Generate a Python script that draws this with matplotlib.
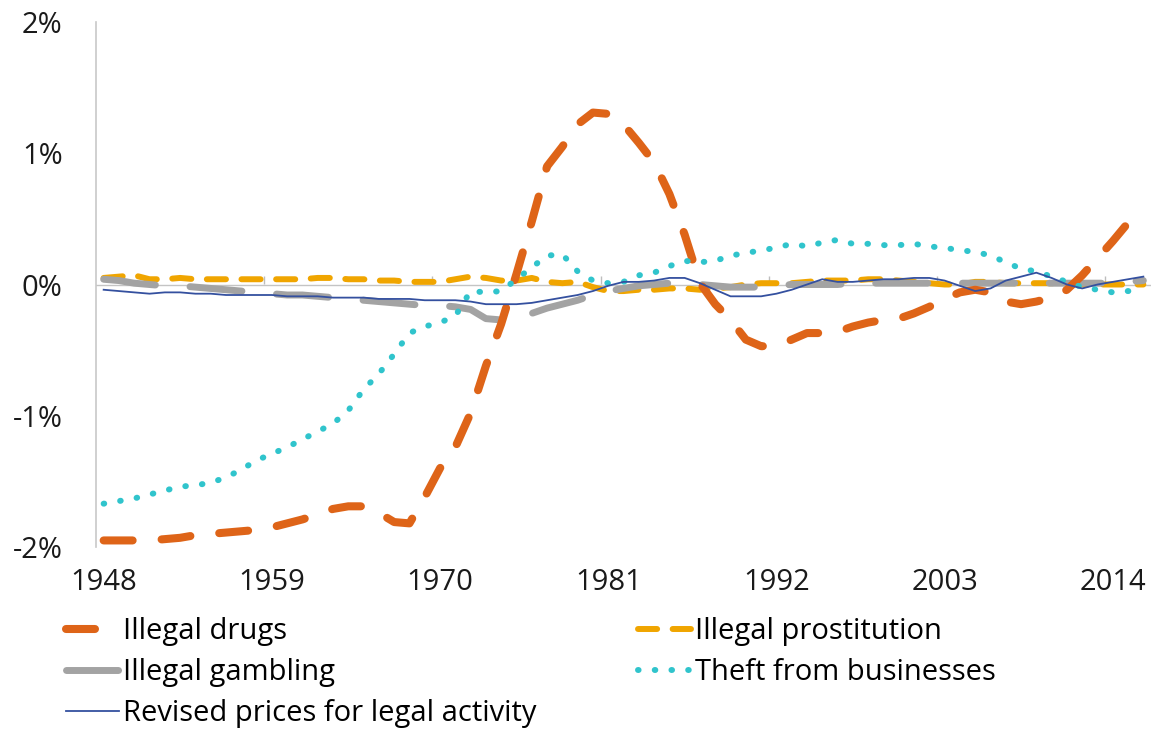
import matplotlib
matplotlib.use("Agg")
import matplotlib.pyplot as plt

plt.rcParams['font.family'] = ['Open Sans', 'DejaVu Sans']

years = list(range(1948, 2017))

drugs = [-1.95, -1.95, -1.95, -1.95, -1.94, -1.93, -1.91, -1.90, -1.89, -1.88,
         -1.87, -1.85, -1.82, -1.79, -1.75, -1.71, -1.69, -1.69, -1.74, -1.81,
         -1.82, -1.62, -1.40, -1.24, -0.98, -0.62, -0.30, 0.08, 0.48, 0.90,
         1.05, 1.22, 1.31, 1.30, 1.22, 1.08, 0.93, 0.69, 0.38, 0.01,
         -0.15, -0.27, -0.42, -0.47, -0.47, -0.42, -0.37, -0.37, -0.36, -0.32,
         -0.29, -0.27, -0.26, -0.22, -0.17, -0.11, -0.06, -0.04, -0.06, -0.13,
         -0.15, -0.13, -0.10, -0.04, 0.07, 0.20, 0.33, 0.47, 0.59]

prostitution = [0.05, 0.06, 0.07, 0.04, 0.04, 0.05, 0.04, 0.04, 0.04, 0.04,
                0.04, 0.04, 0.04, 0.04, 0.05, 0.05, 0.04, 0.04, 0.03, 0.03,
                0.02, 0.02, 0.02, 0.04, 0.06, 0.05, 0.03, 0.03, 0.05, 0.02,
                0.01, 0.02, -0.02, -0.05, -0.05, -0.04, -0.04, -0.03, -0.03, -0.04,
                -0.03, -0.02, 0.00, 0.01, 0.01, 0.01, 0.02, 0.03, 0.03, 0.03,
                0.04, 0.04, 0.03, 0.02, 0.01, 0.00, 0.00, 0.02, 0.02, 0.01,
                0.01, 0.01, 0.01, 0.01, 0.00, 0.00, 0.00, 0.00, 0.00]

gambling = [0.04, 0.03, 0.01, 0.00, -0.01, -0.01, -0.02, -0.03, -0.04, -0.05,
            -0.06, -0.07, -0.08, -0.08, -0.09, -0.10, -0.11, -0.12, -0.13, -0.14,
            -0.15, -0.16, -0.16, -0.17, -0.19, -0.26, -0.27, -0.26, -0.22, -0.18,
            -0.15, -0.12, -0.08, -0.05, -0.03, -0.01, 0.00, 0.01, 0.01, 0.00,
            -0.01, -0.02, -0.02, -0.02, -0.01, 0.00, 0.00, 0.00, 0.00, 0.01,
            0.01, 0.01, 0.01, 0.01, 0.01, 0.01, 0.01, 0.01, 0.01, 0.01,
            0.01, 0.01, 0.01, 0.01, 0.01, 0.01, 0.01, 0.02, 0.03]

theft = [-1.67, -1.65, -1.63, -1.60, -1.57, -1.54, -1.53, -1.51, -1.47, -1.41,
         -1.34, -1.29, -1.24, -1.18, -1.12, -1.06, -0.96, -0.80, -0.68, -0.53,
         -0.37, -0.32, -0.29, -0.24, -0.05, -0.06, -0.05, 0.04, 0.13, 0.22,
         0.23, 0.10, 0.03, 0.01, 0.02, 0.07, 0.09, 0.14, 0.18, 0.17,
         0.18, 0.22, 0.24, 0.26, 0.28, 0.31, 0.29, 0.32, 0.34, 0.31,
         0.31, 0.30, 0.30, 0.31, 0.29, 0.28, 0.26, 0.25, 0.22, 0.17,
         0.12, 0.10, 0.06, 0.02, -0.02, -0.04, -0.06, -0.05, -0.06]

revised = [-0.04, -0.05, -0.06, -0.07, -0.06, -0.06, -0.07, -0.07, -0.08, -0.08,
           -0.08, -0.08, -0.09, -0.09, -0.09, -0.10, -0.10, -0.10, -0.11, -0.11,
           -0.11, -0.12, -0.12, -0.12, -0.13, -0.15, -0.15, -0.15, -0.14, -0.12,
           -0.10, -0.08, -0.05, -0.01, 0.02, 0.02, 0.03, 0.05, 0.05, 0.01,
           -0.04, -0.09, -0.09, -0.09, -0.07, -0.04, 0.00, 0.04, 0.02, 0.02,
           0.03, 0.04, 0.04, 0.05, 0.05, 0.03, -0.01, -0.05, -0.03, 0.03,
           0.06, 0.09, 0.05, 0.00, -0.03, 0.00, 0.02, 0.04, 0.06]

tick_years = [1948, 1959, 1970, 1981, 1992, 2003, 2014]
y_ticks = [-2, -1, 0, 1, 2]

fig = plt.figure(figsize=(11.51, 7.29), dpi=100)
ax = fig.add_axes([96 / 1151, 1 - 547 / 729, 1 - 96 / 1151, (547 - 22) / 729])

# zero line (horizontal category axis crossing at 0)
ax.axhline(0, color='#C4C4C4', lw=1.0, zorder=1)

l_pro, = ax.plot(years, prostitution, color='#F0A500', lw=4.3,
                 linestyle=(0, (3.2, 2.6)), dash_capstyle='round', label='Illegal prostitution')
l_gam, = ax.plot(years, gambling, color='#A3A3A3', lw=5.0,
                 linestyle=(0, (7.5, 5)), dash_capstyle='round', label='Illegal gambling')
l_drg, = ax.plot(years, drugs, color='#DE6418', lw=5.8,
                 linestyle=(0, (3.6, 3.6)), dash_capstyle='round', label='Illegal drugs')
l_thf, = ax.plot(years, theft, color='#30C4CC', lw=4.3,
                 linestyle=(0, (0.1, 2.7)), dash_capstyle='round', label='Theft from businesses')
l_rev, = ax.plot(years, revised, color='#34509F', lw=1.3,
                 label='Revised prices for legal activity')

ax.set_xlim(1947.5, 2016.5)
ax.set_ylim(-2, 2)
ax.set_yticks(y_ticks)
ax.set_yticklabels([f'{v}%' for v in y_ticks])
ax.set_xticks(tick_years)
ax.set_xticklabels([str(y) for y in tick_years])
ax.tick_params(axis='both', length=0, labelsize=21, colors='#1a1a1a')
ax.tick_params(axis='x', pad=15)
ax.tick_params(axis='y', pad=24)
for s in ['top', 'right', 'bottom']:
    ax.spines[s].set_visible(False)
ax.spines['left'].set_color('#C8C8C8')
ax.spines['left'].set_linewidth(1.2)

# small tick marks between categories on the zero line
zero = ax.secondary_xaxis(0.5)
zero.set_xticks([y - 0.5 for y in tick_years[1:]])
zero.set_xticklabels([])
zero.tick_params(length=6, width=1, color='#BDBDBD', direction='out')
for s in zero.spines.values():
    s.set_visible(False)

leg_kw = dict(loc='upper left', frameon=False, fontsize=21, handlelength=1.8,
              handletextpad=0.15, labelspacing=0.42, borderpad=0, borderaxespad=0)
fig.legend(handles=[l_drg, l_gam, l_rev], bbox_to_anchor=(66 / 1151, 1 - 617 / 729), **leg_kw)
fig.legend(handles=[l_pro, l_thf], bbox_to_anchor=(638 / 1151, 1 - 617 / 729), **leg_kw)

fig.savefig('out.png', dpi=100)
